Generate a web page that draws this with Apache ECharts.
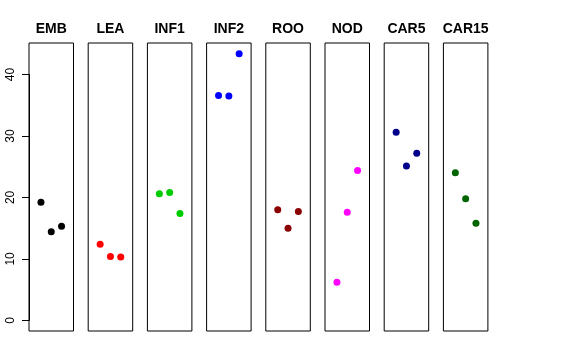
<!DOCTYPE html>
<html>
<head>
<meta charset="utf-8">
<script src="https://cdn.jsdelivr.net/npm/echarts@6/dist/echarts.min.js"></script>
<style>html,body{margin:0;padding:0;background:#fff}#c{width:576px;height:360px}</style>
</head>
<body>
<div id="c"></div>
<script>
var categories = ['EMB', 'LEA', 'INF1', 'INF2', 'ROO', 'NOD', 'CAR5', 'CAR15'];
var emb   = [19.2, 14.4, 15.3];
var lea   = [12.4, 10.4, 10.3];
var inf1  = [20.6, 20.8, 17.4];
var inf2  = [36.6, 36.5, 43.4];
var roo   = [18.0, 15.0, 17.7];
var nod   = [6.2, 17.6, 24.4];
var car5  = [30.6, 25.1, 27.2];
var car15 = [24.0, 19.8, 15.8];
var colors = ['#000000', '#FF0000', '#00CD00', '#0000FF', '#8B0000', '#FF00FF', '#00008B', '#006400'];
var yTickMin = 0, yTickMax = 40, yTickStep = 10;
var positions = [1, 2, 3];

var seriesValues = [emb, lea, inf1, inf2, roo, nod, car5, car15];
var yMin = 0, yMax = 43.4;
var ext = (yMax - yMin) * 0.04;

var grids = [], xAxes = [], yAxes = [], series = [], titles = [];
var left0 = 29, step = 59.2, panelW = 44.5, gridTop = 43, panelH = 288;
categories.forEach(function (cat, i) {
  var L = left0 + i * step;
  grids.push({left: L, top: gridTop, width: panelW, height: panelH, show: true, borderColor: '#000', borderWidth: 1, backgroundColor: 'transparent'});
  xAxes.push({type: 'value', gridIndex: i, min: -0.16, max: 4.16, show: false});
  yAxes.push({type: 'value', gridIndex: i, min: yMin - ext, max: yMax + ext, show: false});
  series.push({
    type: 'scatter', xAxisIndex: i, yAxisIndex: i,
    symbol: 'circle', symbolSize: 7,
    itemStyle: {color: colors[i], opacity: 1},
    data: seriesValues[i].map(function (v, j) { return [positions[j], v]; }),
    silent: true
  });
  titles.push({text: cat, left: L + panelW / 2, top: 22, textAlign: 'center', padding: 0,
    textStyle: {fontSize: 14, fontWeight: 'bold', color: '#000', fontFamily: 'Liberation Sans, Arial, sans-serif'}});
});

// axis-only grid covering exactly the 0..40 range of the panels' y scale
var pxPerUnit = panelH / ((yMax + ext) - (yMin - ext));
var axTop = gridTop + ((yMax + ext) - yTickMax) * pxPerUnit;
var axH = (yTickMax - yTickMin) * pxPerUnit;
var ai = categories.length;
grids.push({left: left0, top: axTop, width: panelW, height: axH, show: false});
xAxes.push({type: 'value', gridIndex: ai, min: 0, max: 1, show: false});
yAxes.push({type: 'value', gridIndex: ai, min: yTickMin, max: yTickMax, interval: yTickStep, position: 'left',
  splitLine: {show: false},
  axisLine: {show: true, lineStyle: {color: '#000', width: 1}},
  axisTick: {show: true, length: 7, lineStyle: {color: '#000', width: 1}},
  axisLabel: {show: true, rotate: 90, margin: 12, color: '#000', fontSize: 12, fontFamily: 'Liberation Sans, Arial, sans-serif'}
});

var chart = echarts.init(document.getElementById('c'), null, {renderer: 'canvas'});
chart.setOption({
  animation: false,
  backgroundColor: '#fff',
  title: titles,
  grid: grids,
  xAxis: xAxes,
  yAxis: yAxes,
  series: series
});
</script>
</body>
</html>
